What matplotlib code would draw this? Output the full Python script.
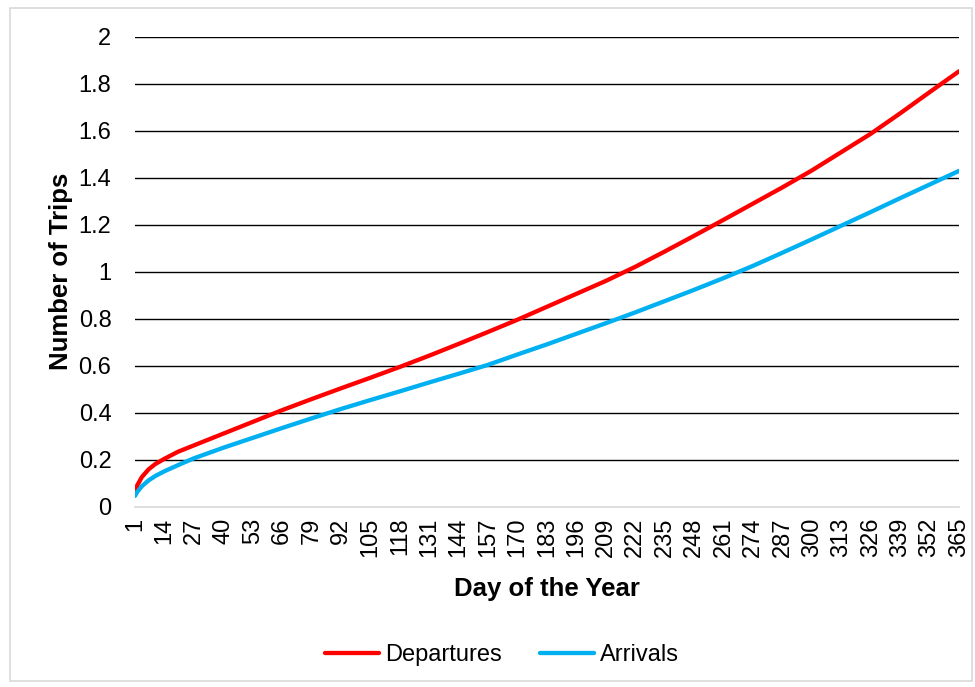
import matplotlib
matplotlib.use("Agg")
import matplotlib.pyplot as plt
from matplotlib.patches import Rectangle

plt.rcParams['font.family'] = ['Liberation Sans', 'DejaVu Sans']

# Data
dep_days = [1, 2, 4, 7, 10, 14, 20, 27, 40, 53, 66, 79, 92, 105, 118, 131, 144, 157, 170,
            183, 196, 209, 222, 235, 248, 261, 274, 287, 300, 313, 326, 339, 352, 365]
departures = [0.07, 0.09, 0.125, 0.158, 0.181, 0.203, 0.233, 0.26, 0.31, 0.36, 0.41, 0.457,
              0.503, 0.548, 0.594, 0.642, 0.692, 0.743, 0.795, 0.85, 0.905, 0.96, 1.02,
              1.085, 1.152, 1.22, 1.289, 1.358, 1.43, 1.508, 1.586, 1.673, 1.763, 1.852]
arr_days = [1, 2, 4, 7, 10, 14, 20, 27, 40, 53, 66, 79, 92, 105, 118, 131, 144, 157, 170,
            183, 196, 209, 222, 235, 248, 261, 274, 287, 300, 313, 326, 339, 352, 365]
arrivals = [0.045, 0.062, 0.086, 0.111, 0.13, 0.15, 0.176, 0.205, 0.25, 0.292, 0.334, 0.375,
            0.415, 0.453, 0.49, 0.528, 0.565, 0.603, 0.647, 0.69, 0.735, 0.78, 0.826,
            0.874, 0.922, 0.972, 1.024, 1.08, 1.137, 1.195, 1.253, 1.312, 1.37, 1.428]
x_ticks = list(range(1, 366, 13))
y_ticks = [0, 0.2, 0.4, 0.6, 0.8, 1, 1.2, 1.4, 1.6, 1.8, 2]
y_tick_labels = ['0', '0.2', '0.4', '0.6', '0.8', '1', '1.2', '1.4', '1.6', '1.8', '2']

W, H = 975, 687
fig = plt.figure(figsize=(W / 100, H / 100), dpi=100)
ax = fig.add_axes([135 / W, 1 - 506.5 / H, (959 - 135) / W, (506.5 - 36.5) / H])

# border around chart area
fig.patches.append(Rectangle((10 / W, 1 - 681 / H), (972 - 10) / W, (681 - 8) / H,
                             transform=fig.transFigure, fill=False,
                             edgecolor='#D9D9D9', linewidth=1.2))

ax.plot(dep_days, departures, color='#FF0000', linewidth=3.1, label='Departures',
        solid_capstyle='round', zorder=3)
ax.plot(arr_days, arrivals, color='#00B0F0', linewidth=3.1, label='Arrivals',
        solid_capstyle='round', zorder=3)

ax.set_xlim(1, 365)
ax.set_ylim(0, 2)
ax.set_yticks(y_ticks)
ax.set_yticklabels(y_tick_labels)
ax.set_xticks(x_ticks)
ax.set_xticklabels([str(t) for t in x_ticks], rotation=90)

for y in y_ticks[1:]:
    ax.axhline(y, color='#000000', linewidth=1.0, zorder=1)

for s in ['left', 'right', 'top']:
    ax.spines[s].set_visible(False)
ax.spines['bottom'].set_color('#D9D9D9')
ax.spines['bottom'].set_linewidth(1.2)

ax.tick_params(axis='y', length=0, pad=17, labelsize=17, labelcolor='#000000')
ax.tick_params(axis='x', length=0, pad=8, labelsize=17, labelcolor='#000000')

ax.set_xlabel('Day of the Year', fontsize=18.5, fontweight='bold', labelpad=14)
ax.set_ylabel('Number of Trips', fontsize=18.5, fontweight='bold', labelpad=4)

fig.legend(loc='center', bbox_to_anchor=(502 / W, 1 - 655 / H), ncol=2, frameon=False,
           fontsize=17, handlelength=2.3, columnspacing=1.6, handletextpad=0.25)

fig.savefig('out.png', dpi=100)
